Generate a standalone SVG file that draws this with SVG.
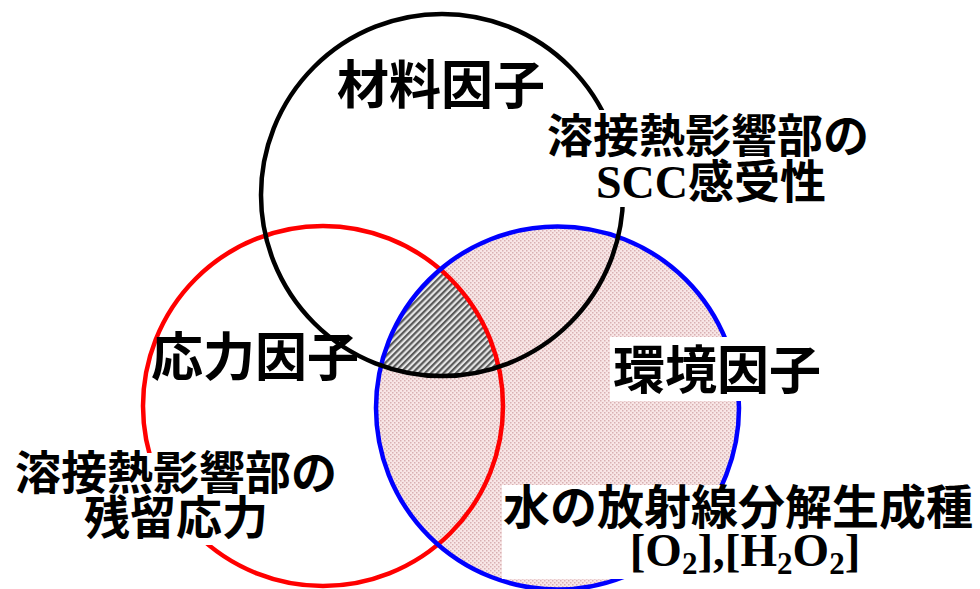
<svg xmlns="http://www.w3.org/2000/svg" width="980" height="589" viewBox="0 0 980 589">
<style>
.ring{fill:none;stroke-width:4.5}
.jp{font-family:"Noto Sans CJK JP","Noto Sans CJK SC",sans-serif;font-weight:bold;fill:#000;text-anchor:middle}
.lat{font-family:"Liberation Serif",serif;font-weight:bold}
.box{fill:#fff}
</style>
<defs>
<pattern id="dots" width="4" height="4" patternUnits="userSpaceOnUse">
<rect width="4" height="4" fill="#f8e6e6"/>
<rect x="0" y="0" width="1.5" height="1.5" fill="#d8b0b2"/>
<rect x="2" y="2" width="1.5" height="1.5" fill="#d8b0b2"/>
</pattern>
<pattern id="hatch" width="4.4" height="4.4" patternUnits="userSpaceOnUse" patternTransform="rotate(45)">
<rect width="4.4" height="4.4" fill="#e6e6e6"/>
<rect width="2.2" height="4.4" fill="#5a5a5a"/>
</pattern>
<clipPath id="cBlue"><circle cx="557.5" cy="408" r="181.5"/></clipPath>
<clipPath id="cRed"><circle cx="323" cy="406" r="180"/></clipPath>
</defs>
<rect width="980" height="589" fill="#fff"/>
<g id="fills">
<circle cx="557.5" cy="408" r="181.5" fill="url(#dots)"/>
<g clip-path="url(#cBlue)"><g clip-path="url(#cRed)"><circle cx="442" cy="195" r="181" fill="url(#hatch)"/></g></g>
</g>
<g id="connectors"></g>
<g id="stress-circle"><circle class="ring" cx="323" cy="406" r="180" stroke="#ff0000"/></g>
<g id="environment-circle"><circle class="ring" cx="557.5" cy="408" r="181.5" stroke="#0000ff"/></g>
<g id="material-circle"><circle class="ring" cx="442" cy="195" r="181" stroke="#000"/></g>
<g id="material-label"><text class="jp" x="441" y="104" font-size="52">材料因子</text></g>
<g id="material-detail">
<rect class="box" x="540" y="110" width="338" height="97"/>
<text class="jp" x="708" y="152" font-size="46">溶接熱影響部の</text>
<text class="jp" x="711" y="198" font-size="46"><tspan class="lat">SCC</tspan>感受性</text>
</g>
<g id="stress-label"><text class="jp" x="255" y="376" font-size="52">応力因子</text></g>
<g id="stress-detail">
<rect class="box" x="8" y="453" width="340" height="92"/>
<text class="jp" x="176" y="489" font-size="46">溶接熱影響部の</text>
<text class="jp" x="176" y="534" font-size="46">残留応力</text>
</g>
<g id="environment-label">
<rect class="box" x="610" y="337" width="220" height="64"/>
<text class="jp" x="717" y="389" font-size="52">環境因子</text>
</g>
<g id="environment-detail">
<rect class="box" x="502" y="485" width="478" height="94"/>
<text class="jp" x="738" y="524" font-size="47">水の放射線分解生成種</text>
<text class="lat" x="745" y="566" font-size="47" text-anchor="middle">[O<tspan font-size="31" dy="8">2</tspan><tspan dy="-8">],[H</tspan><tspan font-size="31" dy="8">2</tspan><tspan dy="-8">O</tspan><tspan font-size="31" dy="8">2</tspan><tspan dy="-8">]</tspan></text>
</g>
</svg>
